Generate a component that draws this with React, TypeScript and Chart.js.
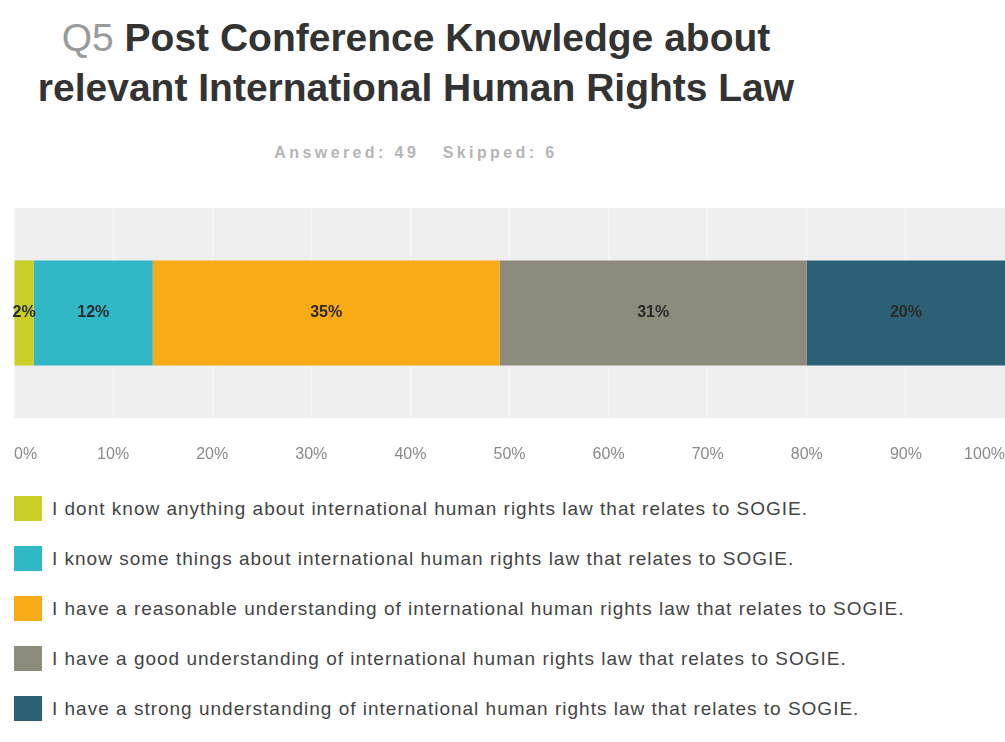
import React, { useEffect, useRef } from "react";
import { Chart, registerables } from "chart.js";

Chart.register(...registerables);

const categories = ["Q5"];
const seriesLabels = [
  "I dont know anything about international human rights law that relates to SOGIE.",
  "I know some things about international human rights law that relates to SOGIE.",
  "I have a reasonable understanding of international human rights law that relates to SOGIE.",
  "I have a good understanding of international human rights law that relates to SOGIE.",
  "I have a strong understanding of international human rights law that relates to SOGIE.",
];
const seriesValues = [2, 12, 35, 31, 20];
const seriesColors = ["#cacf27", "#30b8c6", "#f8aa17", "#8c8b7c", "#2b6075"];
const tickValues = [0, 10, 20, 30, 40, 50, 60, 70, 80, 90, 100];

const plotBg = {
  id: "plotBg",
  beforeDraw(chart: any) {
    const { ctx, chartArea } = chart;
    ctx.save();
    ctx.fillStyle = "#efefef";
    ctx.fillRect(chartArea.left, chartArea.top, chartArea.right - chartArea.left, chartArea.bottom - chartArea.top);
    ctx.restore();
  },
};

const valueLabels = {
  id: "valueLabels",
  afterDatasetsDraw(chart: any) {
    const { ctx } = chart;
    ctx.save();
    ctx.font = "bold 16px 'Liberation Sans', Arial, sans-serif";
    ctx.fillStyle = "#2a2a2a";
    ctx.textAlign = "center";
    ctx.textBaseline = "middle";
    chart.data.datasets.forEach((ds: any, i: number) => {
      const meta = chart.getDatasetMeta(i);
      meta.data.forEach((bar: any, j: number) => {
        const p = bar.getProps(["x", "y", "base"], true);
        const cx = (p.x + p.base) / 2;
        ctx.fillText(ds.data[j] + "%", cx, p.y);
      });
    });
    ctx.restore();
  },
};

export default function App() {
  const ref = useRef<HTMLCanvasElement>(null);

  useEffect(() => {
    if (!ref.current) return;
    const chart = new Chart(ref.current, {
      type: "bar",
      data: {
        labels: categories,
        datasets: seriesLabels.map((label, i) => ({
          label,
          data: [seriesValues[i]],
          backgroundColor: seriesColors[i],
          borderWidth: 0,
          barPercentage: 0.5,
          categoryPercentage: 1,
        })),
      },
      options: {
        indexAxis: "y",
        animation: false,
        responsive: false,
        maintainAspectRatio: false,
        layout: { padding: { left: 14, right: 0, top: 13, bottom: 0 } },
        plugins: {
          legend: { display: false },
          title: { display: false },
          tooltip: { enabled: false },
        },
        scales: {
          x: {
            stacked: true,
            min: 0,
            max: 100,
            afterFit: (scale: any) => {
              scale.height = 62;
              scale.paddingLeft = 0;
              scale.paddingRight = 0;
            },
            afterBuildTicks: (scale: any) => {
              scale.ticks = tickValues.map((v) => ({ value: v }));
            },
            grid: { color: "rgba(255,255,255,0.5)", drawTicks: false },
            border: { display: false },
            ticks: {
              padding: 27,
              align: "inner",
              maxRotation: 0,
              autoSkip: false,
              color: "#8a8a8a",
              font: { size: 16, family: "'Liberation Sans', Arial, sans-serif" },
              callback: (v: any) => v + "%",
            },
          },
          y: { stacked: true, display: false },
        },
      },
      plugins: [plotBg, valueLabels],
    });
    return () => chart.destroy();
  }, []);

  return (
    <div style={{ position: "fixed", left: 0, top: 0, width: 1005, height: 742, overflow: "hidden", background: "#fff", fontFamily: "'Liberation Sans', Arial, sans-serif" }}>
      <div style={{ position: "absolute", left: 0, top: 13, width: 832, textAlign: "center", fontSize: 39, lineHeight: "50px", fontWeight: "bold", color: "#333", whiteSpace: "nowrap" }}>
        <span style={{ color: "#9a9a9a", fontWeight: "normal" }}>Q5</span> Post Conference Knowledge about
        <br />
        relevant International Human Rights Law
      </div>
      <div style={{ position: "absolute", left: 0, top: 143, width: 832, textAlign: "center", fontSize: 16, lineHeight: "20px", fontWeight: "bold", color: "#b5b5b5", letterSpacing: 3.4, whiteSpace: "pre" }}>
        {"Answered: 49   Skipped: 6"}
      </div>
      <canvas ref={ref} width={1005} height={285} style={{ position: "absolute", left: 0, top: 195, width: 1005, height: 285 }} />
      {seriesLabels.map((label, i) => (
        <div key={i} style={{ position: "absolute", left: 14, top: 496 + 50 * i, height: 25, display: "flex", alignItems: "center", whiteSpace: "nowrap" }}>
          <div style={{ width: 28, height: 25, background: seriesColors[i], flex: "none" }} />
          <div style={{ marginLeft: 10, fontSize: 19, color: "#444", letterSpacing: 1 }}>{label}</div>
        </div>
      ))}
    </div>
  );
}
